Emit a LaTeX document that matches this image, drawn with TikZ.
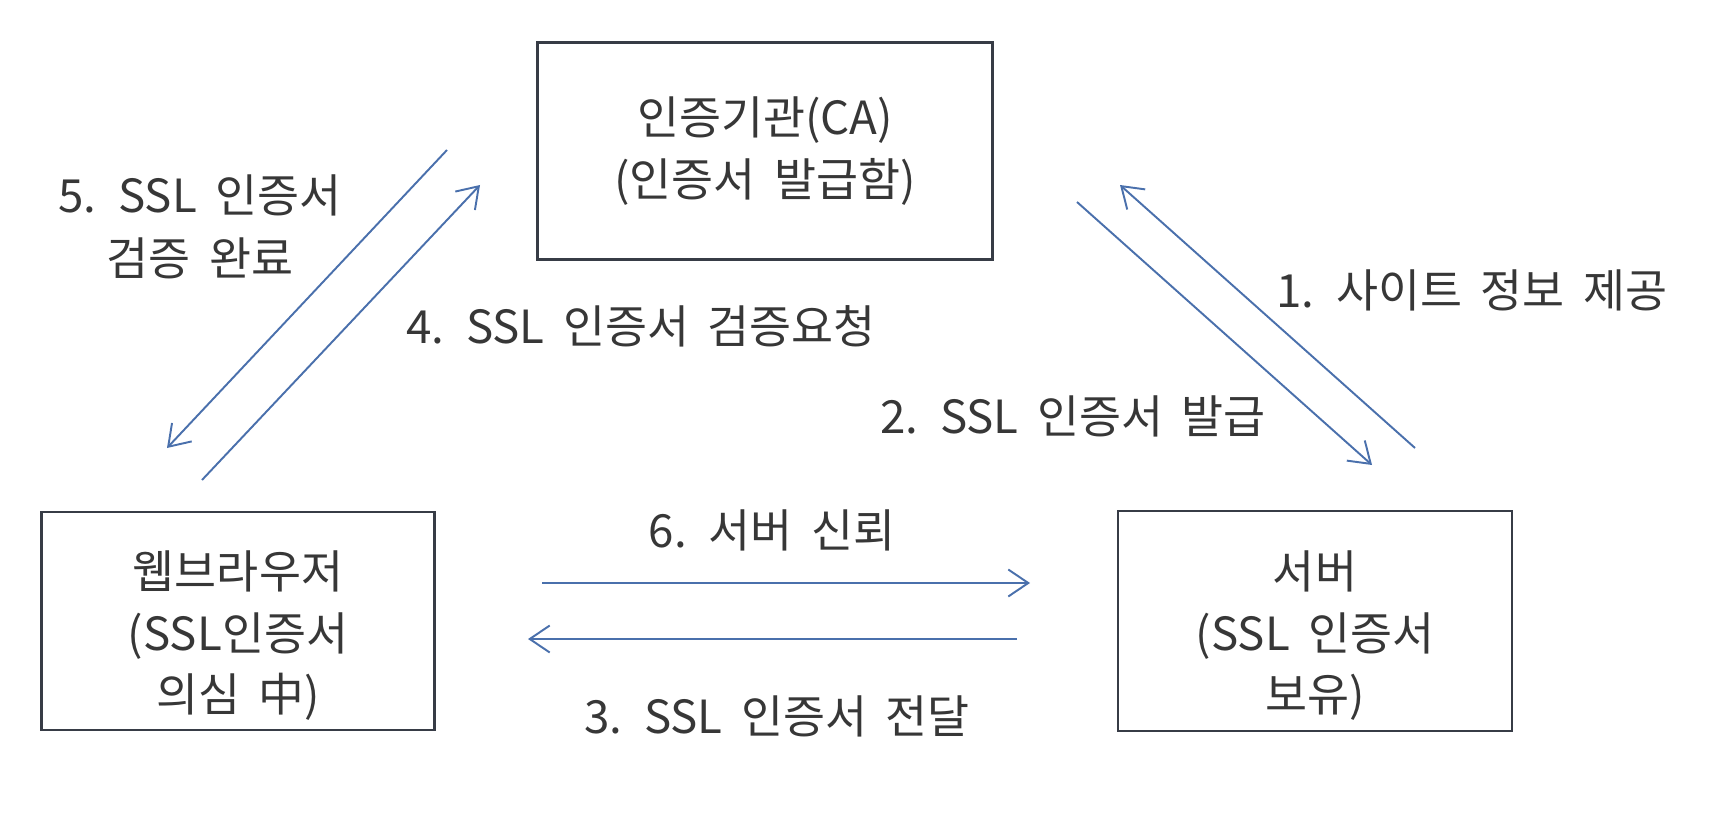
\documentclass[tikz,border=0pt]{standalone}
\usepackage{fontspec}
\setmainfont{Noto Sans CJK KR}[WordSpace=1.8]
\usetikzlibrary{arrows.meta}
\definecolor{boxline}{RGB}{55,60,70}
\definecolor{flowblue}{RGB}{74,112,172}
\definecolor{textgray}{RGB}{55,55,55}

\begin{document}
\begin{tikzpicture}[
    x=0.02cm, y=-0.02cm,
    party/.style={rectangle, draw=boxline, line width=1.6pt},
    boxtext/.style={text=textgray, align=center, font=\fontsize{26}{35}\selectfont},
    msg/.style={text=textgray, align=center, font=\fontsize{26}{36}\selectfont},
    line/.style={draw=flowblue, line width=1.1pt, -{Straight Barb[length=4mm, width=5.4mm]}}
]
    \useasboundingbox (0,0) rectangle (1716,814);

    % Nodes
    \node (ca) [party, minimum width=9.1cm, minimum height=4.34cm] at (765,151) {};
    \node (browser) [party, minimum width=7.86cm, minimum height=4.36cm] at (238,621) {};
    \node (server) [party, minimum width=7.88cm, minimum height=4.4cm] at (1315,621) {};
    \node (ca-text) [boxtext] at (ca.center) {인증기관(CA)\\(인증서 발급함)};
    \node (browser-text) [boxtext, yshift=-0.3cm] at (browser.center) {웹브라우저\\(SSL인증서\\의심 中)};
    \node (server-text) [boxtext, yshift=-0.3cm] at (server.center) {서버\\(SSL 인증서\\보유)};

    % Labels
    \node (lbl1) [msg] at (1472,290) {1. 사이트 정보 제공};
    \node (lbl2) [msg] at (1073,416) {2. SSL 인증서 발급};
    \node (lbl3) [msg] at (777,716) {3. SSL 인증서 전달};
    \node (lbl4) [msg] at (641,326) {4. SSL 인증서 검증요청};
    \node (lbl5) [msg] at (200,227) {5. SSL 인증서\\검증 완료};
    \node (lbl6) [msg] at (772,530) {6. 서버 신뢰};

    % Arrow ends
    \coordinate (req-s) at (1415,448);
    \coordinate (req-e) at (1120,185);
    \coordinate (iss-s) at (1077,202);
    \coordinate (iss-e) at (1372,465);
    \coordinate (snd-s) at (1017,639);
    \coordinate (snd-e) at (528,639);
    \coordinate (chk-s) at (202,480);
    \coordinate (chk-e) at (480,185);
    \coordinate (ok-s) at (447,150);
    \coordinate (ok-e) at (167,448);
    \coordinate (trust-s) at (542,583);
    \coordinate (trust-e) at (1030,583);

    % Connections
    \draw [line] (req-s) -- (req-e);
    \draw [line] (iss-s) -- (iss-e);
    \draw [line] (snd-s) -- (snd-e);
    \draw [line] (chk-s) -- (chk-e);
    \draw [line] (ok-s) -- (ok-e);
    \draw [line] (trust-s) -- (trust-e);
\end{tikzpicture}
\end{document}
